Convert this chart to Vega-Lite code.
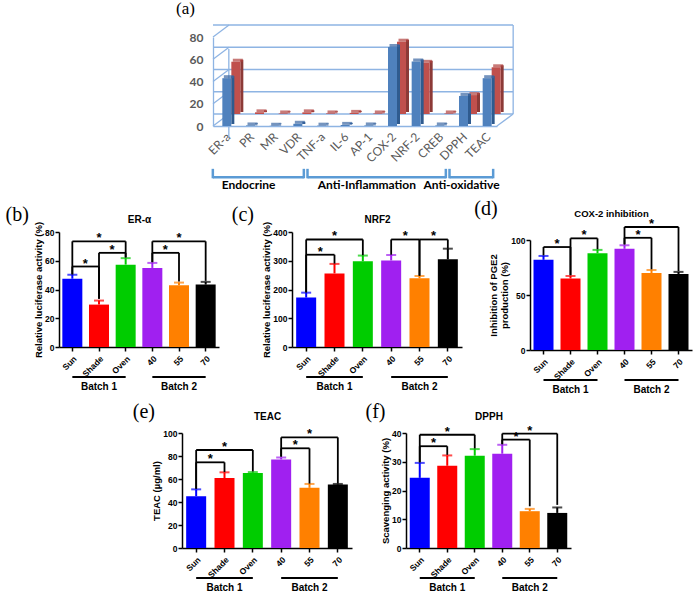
{
"$schema":"https://vega.github.io/schema/vega-lite/v6.json",
"padding":{"left":5,"top":0,"right":5,"bottom":3},
"spacing":8,
"config":{
 "view":{"stroke":null},
 "axis":{"labelFont":"Liberation Sans","labelFontWeight":"bold","labelColor":"black","labelFontSize":8.5,"titleFont":"Liberation Sans","titleFontWeight":"bold","titleColor":"black","titleFontSize":9.5,"domainColor":"black","domainWidth":1.5,"tickColor":"black","tickWidth":1.5,"tickSize":4,"grid":false,"labelPadding":1,"titlePadding":1},
 "title":{"font":"Liberation Serif","fontSize":20,"fontWeight":"normal","anchor":"start","frame":"bounds","color":"black"}
},
"datasets":{
 "bars":[
  {"panel":"b","treatment":"Sun","value":47.5,"upper":50.2},{"panel":"b","treatment":"Shade","value":29.5,"upper":32.3},{"panel":"b","treatment":"Oven","value":57.3,"upper":61.8},{"panel":"b","treatment":"40","value":55,"upper":58.5},{"panel":"b","treatment":"55","value":43,"upper":44.8},{"panel":"b","treatment":"70","value":43.4,"upper":45.3},
  {"panel":"c","treatment":"Sun","value":172,"upper":189},{"panel":"c","treatment":"Shade","value":256,"upper":289},{"panel":"c","treatment":"Oven","value":298,"upper":318},{"panel":"c","treatment":"40","value":301,"upper":320},{"panel":"c","treatment":"55","value":239,"upper":247},{"panel":"c","treatment":"70","value":305,"upper":342},
  {"panel":"d","treatment":"Sun","value":82,"upper":85.5},{"panel":"d","treatment":"Shade","value":65,"upper":67.3},{"panel":"d","treatment":"Oven","value":88,"upper":91},{"panel":"d","treatment":"40","value":92,"upper":95.2},{"panel":"d","treatment":"55","value":70,"upper":72.7},{"panel":"d","treatment":"70","value":69,"upper":71},
  {"panel":"e","treatment":"Sun","value":45,"upper":51},{"panel":"e","treatment":"Shade","value":60.8,"upper":65.8},{"panel":"e","treatment":"Oven","value":65.3,"upper":66},{"panel":"e","treatment":"40","value":77,"upper":78.7},{"panel":"e","treatment":"55","value":52.3,"upper":55.7},{"panel":"e","treatment":"70","value":55.2,"upper":55.7},
  {"panel":"f","treatment":"Sun","value":24.4,"upper":29.6},{"panel":"f","treatment":"Shade","value":28.6,"upper":32.2},{"panel":"f","treatment":"Oven","value":32.1,"upper":34.4},{"panel":"f","treatment":"40","value":32.8,"upper":35.9},{"panel":"f","treatment":"55","value":12.8,"upper":13.6},{"panel":"f","treatment":"70","value":12.2,"upper":14.1}
 ],
 "brackets":[
  {"panel":"b","from":"Sun","to":"Shade","span":1,"level":56,"yFrom":50.5,"yTo":33.5},
  {"panel":"b","from":"Shade","to":"Oven","span":1,"level":65.5,"yFrom":33.5,"yTo":62.3},
  {"panel":"b","from":"Sun","to":"Oven","mid":"Shade","span":2,"level":73.5,"yFrom":50.5,"yTo":62.3},
  {"panel":"b","from":"40","to":"55","span":1,"level":65.5,"yFrom":59,"yTo":45.5},
  {"panel":"b","from":"40","to":"70","mid":"55","span":2,"level":73.5,"yFrom":59,"yTo":46},
  {"panel":"c","from":"Sun","to":"Shade","span":1,"level":321,"yFrom":190,"yTo":290},
  {"panel":"c","from":"Sun","to":"Oven","mid":"Shade","span":2,"level":374,"yFrom":190,"yTo":319},
  {"panel":"c","from":"40","to":"55","span":1,"level":374,"yFrom":321,"yTo":248},
  {"panel":"c","from":"55","to":"70","span":1,"level":374,"yFrom":248,"yTo":342},
  {"panel":"d","from":"Sun","to":"Shade","span":1,"level":93.6,"yFrom":86,"yTo":68},
  {"panel":"d","from":"Shade","to":"Oven","span":1,"level":101.5,"yFrom":68,"yTo":91.5},
  {"panel":"d","from":"40","to":"55","span":1,"level":102,"yFrom":96,"yTo":73.3},
  {"panel":"d","from":"40","to":"70","mid":"55","span":2,"level":111.8,"yFrom":96,"yTo":71.8},
  {"panel":"e","from":"Sun","to":"Shade","span":1,"level":74.5,"yFrom":51.5,"yTo":66},
  {"panel":"e","from":"Sun","to":"Oven","mid":"Shade","span":2,"level":85.2,"yFrom":51.5,"yTo":66.5},
  {"panel":"e","from":"40","to":"55","span":1,"level":86.7,"yFrom":79.5,"yTo":56},
  {"panel":"e","from":"40","to":"70","mid":"55","span":2,"level":96.2,"yFrom":79.5,"yTo":56},
  {"panel":"f","from":"Sun","to":"Shade","span":1,"level":35.4,"yFrom":29.8,"yTo":32.4},
  {"panel":"f","from":"Sun","to":"Oven","mid":"Shade","span":2,"level":39.4,"yFrom":29.8,"yTo":34.6},
  {"panel":"f","from":"40","to":"55","span":1,"level":37.7,"yFrom":36.1,"yTo":14.5},
  {"panel":"f","from":"40","to":"70","mid":"55","span":2,"level":39.8,"yFrom":36.1,"yTo":15}
 ],
 "batches":[{"batch":"Batch 1","from":"Sun","to":"Oven","mid":"Shade"},{"batch":"Batch 2","from":"40","to":"70","mid":"55"}],
 "a3d":[
  {"marker":"ER-a","series":"blue","value":43},{"marker":"PR","series":"blue","value":0.5},{"marker":"MR","series":"blue","value":0.3},{"marker":"VDR","series":"blue","value":2},{"marker":"TNF-a","series":"blue","value":0.3},{"marker":"IL-6","series":"blue","value":1},{"marker":"AP-1","series":"blue","value":0.5},{"marker":"COX-2","series":"blue","value":71},{"marker":"NRF-2","series":"blue","value":58},{"marker":"CREB","series":"blue","value":0.5},{"marker":"DPPH","series":"blue","value":27},{"marker":"TEAC","series":"blue","value":43},
  {"marker":"ER-a","series":"red","value":47},{"marker":"PR","series":"red","value":1.5},{"marker":"MR","series":"red","value":0.5},{"marker":"VDR","series":"red","value":1.5},{"marker":"TNF-a","series":"red","value":0.5},{"marker":"IL-6","series":"red","value":1},{"marker":"AP-1","series":"red","value":0.5},{"marker":"COX-2","series":"red","value":65},{"marker":"NRF-2","series":"red","value":46},{"marker":"CREB","series":"red","value":0.5},{"marker":"DPPH","series":"red","value":17},{"marker":"TEAC","series":"red","value":42}
 ],
 "groups":[{"group":"Endocrine","from":"ER-a","to":"VDR","mid":"PR"},{"group":"Anti-Inflammation","from":"TNF-a","to":"CREB","mid":"AP-1"},{"group":"Anti-oxidative","from":"DPPH","to":"TEAC","mid":"DPPH"}],
 "grid3d":[{"v":0},{"v":20},{"v":40},{"v":60},{"v":80}]
},
"vconcat":[
 {"hconcat":[
  {"width":107,"height":10,"data":{"values":[{}]},"mark":{"type":"text","text":""}},
  {"width":284,"height":89,
   "title":{"text":"(a)","fontSize":17,"dx":-13,"offset":6},
   "resolve":{"axis":{"x":"independent","y":"independent"}},
   "layer":[
    {"data":{"name":"grid3d"},"mark":{"type":"rule","color":"#8EB4E3","strokeWidth":1.3,"xOffset":16,"x2Offset":16,"yOffset":-12},
     "encoding":{"y":{"field":"v","type":"quantitative","scale":{"domain":[0,80],"nice":false},"axis":{"values":[0,20,40,60,80],"title":null,"labelFont":"Lato","labelFontSize":12,"labelColor":"#595959","labelPadding":10,"ticks":false,"domainColor":"#8EB4E3","domainWidth":1.3}}}},
    {"data":{"name":"grid3d"},"mark":{"type":"rule","color":"#8EB4E3","strokeWidth":1.3,"xOffset":-11.8,"x2Offset":4.2,"y2Offset":-12},
     "encoding":{"x":{"datum":"ER-a","type":"nominal","scale":{"domain":["ER-a","PR","MR","VDR","TNF-a","IL-6","AP-1","COX-2","NRF-2","CREB","DPPH","TEAC"],"paddingInner":0,"paddingOuter":0},"axis":{"title":null,"labelAngle":-45,"labelFont":"Lato","labelFontWeight":"normal","labelFontSize":12,"labelColor":"#595959","labelPadding":5,"ticks":false,"domainColor":"#8EB4E3","domainWidth":1.3}},"x2":{"datum":"ER-a"},"y":{"field":"v","type":"quantitative","axis":null},"y2":{"field":"v"}}},
    {"data":{"values":[{"m":"TEAC"}]},"mark":{"type":"rule","color":"#8EB4E3","strokeWidth":1.3,"xOffset":11.8,"x2Offset":28,"y2Offset":-12},
     "encoding":{"x":{"datum":"TEAC","type":"nominal","axis":null},"x2":{"datum":"TEAC"},"y":{"datum":0,"type":"quantitative","axis":null},"y2":{"datum":0}}},
    {"data":{"values":[{"m":"ER-a"}]},"mark":{"type":"rule","color":"#8EB4E3","strokeWidth":1.3,"xOffset":4},
     "encoding":{"x":{"datum":"ER-a","type":"nominal","axis":null},"y":{"datum":-10.8,"type":"quantitative","axis":null},"y2":{"datum":69.2}}},
    {"data":{"values":[{"m":"TEAC"}]},"mark":{"type":"rule","color":"#8EB4E3","strokeWidth":1.3,"xOffset":28},
     "encoding":{"x":{"datum":"TEAC","type":"nominal","axis":null},"y":{"datum":10.8,"type":"quantitative","axis":null},"y2":{"datum":90.8}}},
    {"data":{"name":"a3d"},"transform":[{"filter":"datum.series==='red'"}],"mark":{"type":"bar","width":3,"color":"#8C3A37","xOffset":17,"x2Offset":17,"yOffset":-14,"y2Offset":-14},
     "encoding":{"x":{"field":"marker","type":"nominal","axis":null},"y":{"field":"value","type":"quantitative","axis":null}}},
    {"data":{"name":"a3d"},"transform":[{"filter":"datum.series==='red'"}],"mark":{"type":"bar","width":9,"color":"#C0504D","xOffset":11,"x2Offset":11,"yOffset":-12,"y2Offset":-12},
     "encoding":{"x":{"field":"marker","type":"nominal","axis":null},"y":{"field":"value","type":"quantitative","axis":null}}},
    {"data":{"name":"a3d"},"transform":[{"filter":"datum.series==='red'"}],"mark":{"type":"tick","size":10,"thickness":3,"color":"#B0423F","xOffset":13,"yOffset":-13.5},
     "encoding":{"x":{"field":"marker","type":"nominal","axis":null},"y":{"field":"value","type":"quantitative","axis":null}}},
    {"data":{"name":"a3d"},"transform":[{"filter":"datum.series==='blue'"}],"mark":{"type":"bar","width":3,"color":"#2F5B8F","xOffset":8,"x2Offset":8,"yOffset":-2,"y2Offset":-2},
     "encoding":{"x":{"field":"marker","type":"nominal","axis":null},"y":{"field":"value","type":"quantitative","axis":null}}},
    {"data":{"name":"a3d"},"transform":[{"filter":"datum.series==='blue'"}],"mark":{"type":"bar","width":9,"color":"#4F81BD","xOffset":2,"x2Offset":2},
     "encoding":{"x":{"field":"marker","type":"nominal","axis":null},"y":{"field":"value","type":"quantitative","axis":null}}},
    {"data":{"name":"a3d"},"transform":[{"filter":"datum.series==='blue'"}],"mark":{"type":"tick","size":10,"thickness":3,"color":"#3A67A2","xOffset":4,"yOffset":-1.5},
     "encoding":{"x":{"field":"marker","type":"nominal","axis":null},"y":{"field":"value","type":"quantitative","axis":null}}},
    {"data":{"name":"groups"},"mark":{"type":"rule","color":"#5B9BD5","strokeWidth":2.5,"xOffset":-12,"x2Offset":8},
     "encoding":{"x":{"field":"from","type":"nominal","axis":null},"x2":{"field":"to"},"y":{"datum":-46,"type":"quantitative","axis":null}}},
    {"data":{"name":"groups"},"mark":{"type":"rule","color":"#5B9BD5","strokeWidth":2.5,"xOffset":-12},
     "encoding":{"x":{"field":"from","type":"nominal","axis":null},"y":{"datum":-38.5,"type":"quantitative","axis":null},"y2":{"datum":-47}}},
    {"data":{"name":"groups"},"mark":{"type":"rule","color":"#5B9BD5","strokeWidth":2.5,"xOffset":8},
     "encoding":{"x":{"field":"to","type":"nominal","axis":null},"y":{"datum":-38.5,"type":"quantitative","axis":null},"y2":{"datum":-47}}},
    {"data":{"name":"groups"},"mark":{"type":"text","font":"Lato","fontWeight":"bold","fontSize":12,"color":"black","baseline":"middle"},
     "encoding":{"x":{"field":"mid","type":"nominal","axis":null},"y":{"datum":-53,"type":"quantitative","axis":null},"text":{"field":"group"}}}
   ]}
 ],"spacing":10},
 {"vconcat":[
 {"hconcat":[
  {"width":160,"height":115,"title":{"text":"(b)","dx":-28,"offset":-11},"resolve":{"axis":{"x":"independent","y":"independent"}},
   "layer":[
    {"data":{"name":"bars"},"transform":[{"filter":"datum.panel==='b'"}],"mark":{"type":"bar","width":20},
     "encoding":{"x":{"field":"treatment","type":"nominal","scale":{"domain":["Sun","Shade","Oven","40","55","70"],"paddingInner":0,"paddingOuter":0},"axis":{"title":null,"labelAngle":-45,"labelPadding":3}},
      "y":{"field":"value","type":"quantitative","scale":{"domain":[0,80],"nice":false},"axis":{"values":[0,20,40,60,80],"title":"Relative luciferase activity (%)"}},
      "color":{"field":"treatment","type":"nominal","scale":{"domain":["Sun","Shade","Oven","40","55","70"],"range":["#0000ff","#ff0000","#00cc00","#a020f0","#ff8000","#000000"]},"legend":null}}},
    {"data":{"name":"bars"},"transform":[{"filter":"datum.panel==='b'"}],"mark":{"type":"rule","strokeWidth":2},
     "encoding":{"x":{"field":"treatment","type":"nominal","axis":null},"y":{"field":"value","type":"quantitative","axis":null},"y2":{"field":"upper"},"color":{"field":"treatment","type":"nominal","legend":null}}},
    {"data":{"name":"bars"},"transform":[{"filter":"datum.panel==='b'"}],"mark":{"type":"tick","size":10,"thickness":2},
     "encoding":{"x":{"field":"treatment","type":"nominal","axis":null},"y":{"field":"upper","type":"quantitative","axis":null},"color":{"field":"treatment","type":"nominal","legend":null}}},
    {"data":{"name":"brackets"},"transform":[{"filter":"datum.panel==='b'"}],"mark":{"type":"rule","color":"black","strokeWidth":1.8},
     "encoding":{"x":{"field":"from","type":"nominal","axis":null},"y":{"field":"yFrom","type":"quantitative","axis":null},"y2":{"field":"level"}}},
    {"data":{"name":"brackets"},"transform":[{"filter":"datum.panel==='b'"}],"mark":{"type":"rule","color":"black","strokeWidth":1.8},
     "encoding":{"x":{"field":"to","type":"nominal","axis":null},"y":{"field":"yTo","type":"quantitative","axis":null},"y2":{"field":"level"}}},
    {"data":{"name":"brackets"},"transform":[{"filter":"datum.panel==='b'"}],"mark":{"type":"rule","color":"black","strokeWidth":1.8},
     "encoding":{"x":{"field":"from","type":"nominal","axis":null},"x2":{"field":"to"},"y":{"field":"level","type":"quantitative","axis":null}}},
    {"data":{"name":"brackets"},"transform":[{"filter":"datum.panel==='b' && datum.span===1"}],"mark":{"type":"text","text":"*","fontSize":13,"fontWeight":"bold","font":"Liberation Sans","dx":13,"dy":1,"baseline":"alphabetic"},
     "encoding":{"x":{"field":"from","type":"nominal","axis":null},"y":{"field":"level","type":"quantitative","axis":null}}},
    {"data":{"name":"brackets"},"transform":[{"filter":"datum.panel==='b' && datum.span===2"}],"mark":{"type":"text","text":"*","fontSize":13,"fontWeight":"bold","font":"Liberation Sans","dy":1,"baseline":"alphabetic"},
     "encoding":{"x":{"field":"mid","type":"nominal","axis":null},"y":{"field":"level","type":"quantitative","axis":null}}},
    {"data":{"name":"batches"},"mark":{"type":"rule","color":"black","strokeWidth":1.8,"yOffset":30},
     "encoding":{"x":{"field":"from","type":"nominal","axis":null},"x2":{"field":"to"},"y":{"datum":0,"type":"quantitative","axis":null}}},
    {"data":{"name":"batches"},"mark":{"type":"text","font":"Liberation Sans","fontWeight":"bold","fontSize":10,"yOffset":40,"baseline":"middle"},
     "encoding":{"x":{"field":"mid","type":"nominal","axis":{"orient":"top","title":"ER-α","domain":false,"ticks":false,"labels":false,"titleFontSize":10,"titlePadding":8}},"y":{"datum":0,"type":"quantitative","axis":null},"text":{"field":"batch"}}}
   ]},
  {"width":170,"height":115,"title":{"text":"(c)","dx":-30,"offset":-11},"resolve":{"axis":{"x":"independent","y":"independent"}},
   "layer":[
    {"data":{"name":"bars"},"transform":[{"filter":"datum.panel==='c'"}],"mark":{"type":"bar","width":20},
     "encoding":{"x":{"field":"treatment","type":"nominal","scale":{"domain":["Sun","Shade","Oven","40","55","70"],"paddingInner":0,"paddingOuter":0},"axis":{"title":null,"labelAngle":-45,"labelPadding":3}},
      "y":{"field":"value","type":"quantitative","scale":{"domain":[0,400],"nice":false},"axis":{"values":[0,100,200,300,400],"title":"Relative luciferase activity (%)"}},
      "color":{"field":"treatment","type":"nominal","scale":{"domain":["Sun","Shade","Oven","40","55","70"],"range":["#0000ff","#ff0000","#00cc00","#a020f0","#ff8000","#000000"]},"legend":null}}},
    {"data":{"name":"bars"},"transform":[{"filter":"datum.panel==='c'"}],"mark":{"type":"rule","strokeWidth":2},
     "encoding":{"x":{"field":"treatment","type":"nominal","axis":null},"y":{"field":"value","type":"quantitative","axis":null},"y2":{"field":"upper"},"color":{"field":"treatment","type":"nominal","legend":null}}},
    {"data":{"name":"bars"},"transform":[{"filter":"datum.panel==='c'"}],"mark":{"type":"tick","size":10,"thickness":2},
     "encoding":{"x":{"field":"treatment","type":"nominal","axis":null},"y":{"field":"upper","type":"quantitative","axis":null},"color":{"field":"treatment","type":"nominal","legend":null}}},
    {"data":{"name":"brackets"},"transform":[{"filter":"datum.panel==='c'"}],"mark":{"type":"rule","color":"black","strokeWidth":1.8},
     "encoding":{"x":{"field":"from","type":"nominal","axis":null},"y":{"field":"yFrom","type":"quantitative","axis":null},"y2":{"field":"level"}}},
    {"data":{"name":"brackets"},"transform":[{"filter":"datum.panel==='c'"}],"mark":{"type":"rule","color":"black","strokeWidth":1.8},
     "encoding":{"x":{"field":"to","type":"nominal","axis":null},"y":{"field":"yTo","type":"quantitative","axis":null},"y2":{"field":"level"}}},
    {"data":{"name":"brackets"},"transform":[{"filter":"datum.panel==='c'"}],"mark":{"type":"rule","color":"black","strokeWidth":1.8},
     "encoding":{"x":{"field":"from","type":"nominal","axis":null},"x2":{"field":"to"},"y":{"field":"level","type":"quantitative","axis":null}}},
    {"data":{"name":"brackets"},"transform":[{"filter":"datum.panel==='c' && datum.span===1"}],"mark":{"type":"text","text":"*","fontSize":13,"fontWeight":"bold","font":"Liberation Sans","dx":14,"dy":1,"baseline":"alphabetic"},
     "encoding":{"x":{"field":"from","type":"nominal","axis":null},"y":{"field":"level","type":"quantitative","axis":null}}},
    {"data":{"name":"brackets"},"transform":[{"filter":"datum.panel==='c' && datum.span===2"}],"mark":{"type":"text","text":"*","fontSize":13,"fontWeight":"bold","font":"Liberation Sans","dy":1,"baseline":"alphabetic"},
     "encoding":{"x":{"field":"mid","type":"nominal","axis":null},"y":{"field":"level","type":"quantitative","axis":null}}},
    {"data":{"name":"batches"},"mark":{"type":"rule","color":"black","strokeWidth":1.8,"yOffset":30},
     "encoding":{"x":{"field":"from","type":"nominal","axis":null},"x2":{"field":"to"},"y":{"datum":0,"type":"quantitative","axis":null}}},
    {"data":{"name":"batches"},"mark":{"type":"text","font":"Liberation Sans","fontWeight":"bold","fontSize":10,"yOffset":40,"baseline":"middle"},
     "encoding":{"x":{"field":"mid","type":"nominal","axis":{"orient":"top","title":"NRF2","domain":false,"ticks":false,"labels":false,"titleFontSize":10,"titlePadding":8}},"y":{"datum":0,"type":"quantitative","axis":null},"text":{"field":"batch"}}}
   ]},
  {"width":162,"height":118,"title":{"text":"(d)","dx":-14,"offset":-11},"resolve":{"axis":{"x":"independent","y":"independent"}},
   "layer":[
    {"data":{"name":"bars"},"transform":[{"filter":"datum.panel==='d'"}],"mark":{"type":"bar","width":20},
     "encoding":{"x":{"field":"treatment","type":"nominal","scale":{"domain":["Sun","Shade","Oven","40","55","70"],"paddingInner":0,"paddingOuter":0},"axis":{"title":null,"labelAngle":-45,"labelPadding":3}},
      "y":{"field":"value","type":"quantitative","scale":{"domain":[0,100],"nice":false,"range":[118,8]},"axis":{"values":[0,50,100],"title":["Inhibition of PGE2","production (%)"]}},
      "color":{"field":"treatment","type":"nominal","scale":{"domain":["Sun","Shade","Oven","40","55","70"],"range":["#0000ff","#ff0000","#00cc00","#a020f0","#ff8000","#000000"]},"legend":null}}},
    {"data":{"name":"bars"},"transform":[{"filter":"datum.panel==='d'"}],"mark":{"type":"rule","strokeWidth":2},
     "encoding":{"x":{"field":"treatment","type":"nominal","axis":null},"y":{"field":"value","type":"quantitative","axis":null},"y2":{"field":"upper"},"color":{"field":"treatment","type":"nominal","legend":null}}},
    {"data":{"name":"bars"},"transform":[{"filter":"datum.panel==='d'"}],"mark":{"type":"tick","size":10,"thickness":2},
     "encoding":{"x":{"field":"treatment","type":"nominal","axis":null},"y":{"field":"upper","type":"quantitative","axis":null},"color":{"field":"treatment","type":"nominal","legend":null}}},
    {"data":{"name":"brackets"},"transform":[{"filter":"datum.panel==='d'"}],"mark":{"type":"rule","color":"black","strokeWidth":1.8},
     "encoding":{"x":{"field":"from","type":"nominal","axis":null},"y":{"field":"yFrom","type":"quantitative","axis":null},"y2":{"field":"level"}}},
    {"data":{"name":"brackets"},"transform":[{"filter":"datum.panel==='d'"}],"mark":{"type":"rule","color":"black","strokeWidth":1.8},
     "encoding":{"x":{"field":"to","type":"nominal","axis":null},"y":{"field":"yTo","type":"quantitative","axis":null},"y2":{"field":"level"}}},
    {"data":{"name":"brackets"},"transform":[{"filter":"datum.panel==='d'"}],"mark":{"type":"rule","color":"black","strokeWidth":1.8},
     "encoding":{"x":{"field":"from","type":"nominal","axis":null},"x2":{"field":"to"},"y":{"field":"level","type":"quantitative","axis":null}}},
    {"data":{"name":"brackets"},"transform":[{"filter":"datum.panel==='d' && datum.span===1"}],"mark":{"type":"text","text":"*","fontSize":13,"fontWeight":"bold","font":"Liberation Sans","dx":13.5,"dy":1,"baseline":"alphabetic"},
     "encoding":{"x":{"field":"from","type":"nominal","axis":null},"y":{"field":"level","type":"quantitative","axis":null}}},
    {"data":{"name":"brackets"},"transform":[{"filter":"datum.panel==='d' && datum.span===2"}],"mark":{"type":"text","text":"*","fontSize":13,"fontWeight":"bold","font":"Liberation Sans","dy":1,"baseline":"alphabetic"},
     "encoding":{"x":{"field":"mid","type":"nominal","axis":null},"y":{"field":"level","type":"quantitative","axis":null}}},
    {"data":{"name":"batches"},"mark":{"type":"rule","color":"black","strokeWidth":1.8,"yOffset":30},
     "encoding":{"x":{"field":"from","type":"nominal","axis":null},"x2":{"field":"to"},"y":{"datum":0,"type":"quantitative","axis":null}}},
    {"data":{"name":"batches"},"mark":{"type":"text","font":"Liberation Sans","fontWeight":"bold","fontSize":10,"yOffset":40,"baseline":"middle"},
     "encoding":{"x":{"field":"mid","type":"nominal","axis":{"orient":"top","title":"COX-2 inhibition","domain":false,"ticks":false,"labels":false,"titleFontSize":9.5,"titlePadding":14}},"y":{"datum":0,"type":"quantitative","axis":null},"text":{"field":"batch"}}}
   ]}
 ],"spacing":12},
 {"hconcat":[
  {"width":60,"height":10,"data":{"values":[{}]},"mark":{"type":"text","text":""}},
  {"width":170,"height":115,"title":{"text":"(e)","dx":-19,"offset":-11},"resolve":{"axis":{"x":"independent","y":"independent"}},
   "layer":[
    {"data":{"name":"bars"},"transform":[{"filter":"datum.panel==='e'"}],"mark":{"type":"bar","width":20},
     "encoding":{"x":{"field":"treatment","type":"nominal","scale":{"domain":["Sun","Shade","Oven","40","55","70"],"paddingInner":0,"paddingOuter":0},"axis":{"title":null,"labelAngle":-45,"labelPadding":3}},
      "y":{"field":"value","type":"quantitative","scale":{"domain":[0,100],"nice":false},"axis":{"values":[0,20,40,60,80,100],"title":"TEAC (µg/ml)"}},
      "color":{"field":"treatment","type":"nominal","scale":{"domain":["Sun","Shade","Oven","40","55","70"],"range":["#0000ff","#ff0000","#00cc00","#a020f0","#ff8000","#000000"]},"legend":null}}},
    {"data":{"name":"bars"},"transform":[{"filter":"datum.panel==='e'"}],"mark":{"type":"rule","strokeWidth":2},
     "encoding":{"x":{"field":"treatment","type":"nominal","axis":null},"y":{"field":"value","type":"quantitative","axis":null},"y2":{"field":"upper"},"color":{"field":"treatment","type":"nominal","legend":null}}},
    {"data":{"name":"bars"},"transform":[{"filter":"datum.panel==='e'"}],"mark":{"type":"tick","size":10,"thickness":2},
     "encoding":{"x":{"field":"treatment","type":"nominal","axis":null},"y":{"field":"upper","type":"quantitative","axis":null},"color":{"field":"treatment","type":"nominal","legend":null}}},
    {"data":{"name":"brackets"},"transform":[{"filter":"datum.panel==='e'"}],"mark":{"type":"rule","color":"black","strokeWidth":1.8},
     "encoding":{"x":{"field":"from","type":"nominal","axis":null},"y":{"field":"yFrom","type":"quantitative","axis":null},"y2":{"field":"level"}}},
    {"data":{"name":"brackets"},"transform":[{"filter":"datum.panel==='e'"}],"mark":{"type":"rule","color":"black","strokeWidth":1.8},
     "encoding":{"x":{"field":"to","type":"nominal","axis":null},"y":{"field":"yTo","type":"quantitative","axis":null},"y2":{"field":"level"}}},
    {"data":{"name":"brackets"},"transform":[{"filter":"datum.panel==='e'"}],"mark":{"type":"rule","color":"black","strokeWidth":1.8},
     "encoding":{"x":{"field":"from","type":"nominal","axis":null},"x2":{"field":"to"},"y":{"field":"level","type":"quantitative","axis":null}}},
    {"data":{"name":"brackets"},"transform":[{"filter":"datum.panel==='e' && datum.span===1"}],"mark":{"type":"text","text":"*","fontSize":13,"fontWeight":"bold","font":"Liberation Sans","dx":14,"dy":1,"baseline":"alphabetic"},
     "encoding":{"x":{"field":"from","type":"nominal","axis":null},"y":{"field":"level","type":"quantitative","axis":null}}},
    {"data":{"name":"brackets"},"transform":[{"filter":"datum.panel==='e' && datum.span===2"}],"mark":{"type":"text","text":"*","fontSize":13,"fontWeight":"bold","font":"Liberation Sans","dy":1,"baseline":"alphabetic"},
     "encoding":{"x":{"field":"mid","type":"nominal","axis":null},"y":{"field":"level","type":"quantitative","axis":null}}},
    {"data":{"name":"batches"},"mark":{"type":"rule","color":"black","strokeWidth":1.8,"yOffset":30},
     "encoding":{"x":{"field":"from","type":"nominal","axis":null},"x2":{"field":"to"},"y":{"datum":0,"type":"quantitative","axis":null}}},
    {"data":{"name":"batches"},"mark":{"type":"text","font":"Liberation Sans","fontWeight":"bold","fontSize":10,"yOffset":40,"baseline":"middle"},
     "encoding":{"x":{"field":"mid","type":"nominal","axis":{"orient":"top","title":"TEAC","domain":false,"ticks":false,"labels":false,"titleFontSize":10,"titlePadding":12}},"y":{"datum":0,"type":"quantitative","axis":null},"text":{"field":"batch"}}}
   ]},
  {"width":165,"height":115,"title":{"text":"(f)","dx":-15,"offset":-11},"resolve":{"axis":{"x":"independent","y":"independent"}},
   "layer":[
    {"data":{"name":"bars"},"transform":[{"filter":"datum.panel==='f'"}],"mark":{"type":"bar","width":20},
     "encoding":{"x":{"field":"treatment","type":"nominal","scale":{"domain":["Sun","Shade","Oven","40","55","70"],"paddingInner":0,"paddingOuter":0},"axis":{"title":null,"labelAngle":-45,"labelPadding":3}},
      "y":{"field":"value","type":"quantitative","scale":{"domain":[0,40],"nice":false},"axis":{"values":[0,10,20,30,40],"title":"Scavenging activity (%)"}},
      "color":{"field":"treatment","type":"nominal","scale":{"domain":["Sun","Shade","Oven","40","55","70"],"range":["#0000ff","#ff0000","#00cc00","#a020f0","#ff8000","#000000"]},"legend":null}}},
    {"data":{"name":"bars"},"transform":[{"filter":"datum.panel==='f'"}],"mark":{"type":"rule","strokeWidth":2},
     "encoding":{"x":{"field":"treatment","type":"nominal","axis":null},"y":{"field":"value","type":"quantitative","axis":null},"y2":{"field":"upper"},"color":{"field":"treatment","type":"nominal","legend":null}}},
    {"data":{"name":"bars"},"transform":[{"filter":"datum.panel==='f'"}],"mark":{"type":"tick","size":10,"thickness":2},
     "encoding":{"x":{"field":"treatment","type":"nominal","axis":null},"y":{"field":"upper","type":"quantitative","axis":null},"color":{"field":"treatment","type":"nominal","legend":null}}},
    {"data":{"name":"brackets"},"transform":[{"filter":"datum.panel==='f'"}],"mark":{"type":"rule","color":"black","strokeWidth":1.8},
     "encoding":{"x":{"field":"from","type":"nominal","axis":null},"y":{"field":"yFrom","type":"quantitative","axis":null},"y2":{"field":"level"}}},
    {"data":{"name":"brackets"},"transform":[{"filter":"datum.panel==='f'"}],"mark":{"type":"rule","color":"black","strokeWidth":1.8},
     "encoding":{"x":{"field":"to","type":"nominal","axis":null},"y":{"field":"yTo","type":"quantitative","axis":null},"y2":{"field":"level"}}},
    {"data":{"name":"brackets"},"transform":[{"filter":"datum.panel==='f'"}],"mark":{"type":"rule","color":"black","strokeWidth":1.8},
     "encoding":{"x":{"field":"from","type":"nominal","axis":null},"x2":{"field":"to"},"y":{"field":"level","type":"quantitative","axis":null}}},
    {"data":{"name":"brackets"},"transform":[{"filter":"datum.panel==='f' && datum.span===1"}],"mark":{"type":"text","text":"*","fontSize":13,"fontWeight":"bold","font":"Liberation Sans","dx":13.75,"dy":1,"baseline":"alphabetic"},
     "encoding":{"x":{"field":"from","type":"nominal","axis":null},"y":{"field":"level","type":"quantitative","axis":null}}},
    {"data":{"name":"brackets"},"transform":[{"filter":"datum.panel==='f' && datum.span===2"}],"mark":{"type":"text","text":"*","fontSize":13,"fontWeight":"bold","font":"Liberation Sans","dy":1,"baseline":"alphabetic"},
     "encoding":{"x":{"field":"mid","type":"nominal","axis":null},"y":{"field":"level","type":"quantitative","axis":null}}},
    {"data":{"name":"batches"},"mark":{"type":"rule","color":"black","strokeWidth":1.8,"yOffset":30},
     "encoding":{"x":{"field":"from","type":"nominal","axis":null},"x2":{"field":"to"},"y":{"datum":0,"type":"quantitative","axis":null}}},
    {"data":{"name":"batches"},"mark":{"type":"text","font":"Liberation Sans","fontWeight":"bold","fontSize":10,"yOffset":40,"baseline":"middle"},
     "encoding":{"x":{"field":"mid","type":"nominal","axis":{"orient":"top","title":"DPPH","domain":false,"ticks":false,"labels":false,"titleFontSize":10,"titlePadding":12}},"y":{"datum":0,"type":"quantitative","axis":null},"text":{"field":"batch"}}}
   ]}
 ],"spacing":13}
 ],"spacing":7}
]
}
